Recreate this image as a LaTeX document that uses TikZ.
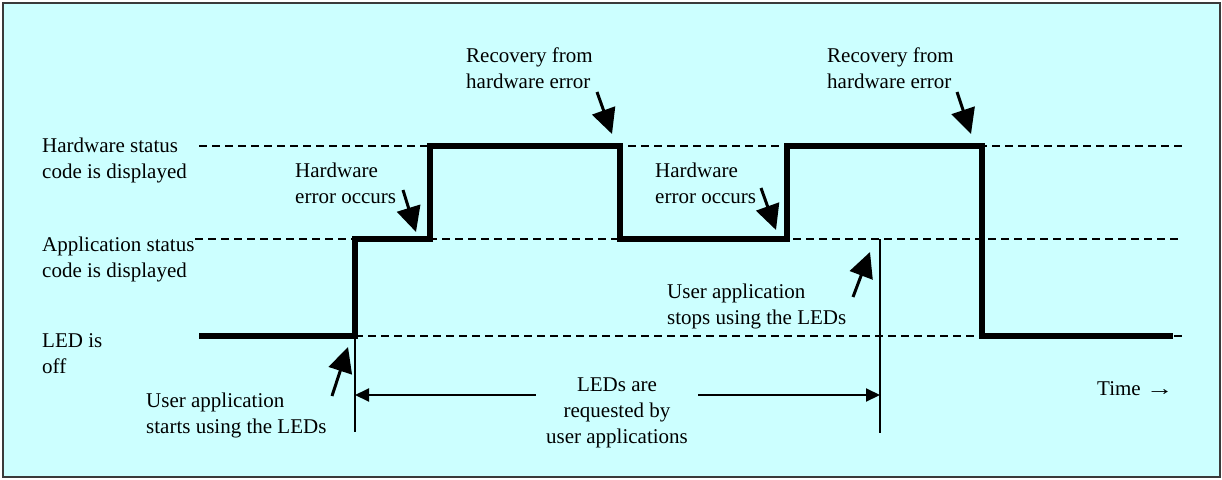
\documentclass[tikz,border=0pt]{standalone}
\usepackage{fontspec}
\setmainfont{Liberation Serif}
\usetikzlibrary{arrows.meta}
\definecolor{ledcyan}{HTML}{CCFFFF}
\definecolor{framegrey}{HTML}{3A3A3A}

\begin{document}
\begin{tikzpicture}[x=1pt, y=-1pt, font=\fontsize{21}{26}\selectfont,
  lbl/.style={anchor=base west, align=left, inner sep=0pt},
  lvl/.style={line width=1.8pt, dash pattern=on 8pt off 5pt},
  sig/.style={line width=6pt},
  ptr/.style={-{Triangle[length=25pt, width=24pt]}, line width=3pt},
  dim/.style={-{Triangle[length=14pt, width=13pt]}, line width=2pt},
  vline/.style={line width=2pt}]
\useasboundingbox (0,0) rectangle (1222,479);
\draw[framegrey, line width=1.5pt, fill=ledcyan] (3,3) rectangle (1220,477);

% state labels
\node[lbl] (hwlbl) at (42,178) {Hardware status\\code is displayed};
\node[lbl] (applbl) at (42,277) {Application status\\code is displayed};
\node[lbl] (offlbl) at (42,373) {LED is\\off};

% levels
\draw[lvl] (199,146) -- (1182,146);
\draw[lvl] (195,239) -- (1182,239);
\draw[lvl] (355,336) -- (1182,336);

% LED state over time
\draw[sig] (199,336) -- (355,336) -- (355,239) -- (430,239) -- (430,146)
  -- (620,146) -- (620,239) -- (787,239) -- (787,146) -- (982,146)
  -- (982,336) -- (1173,336);

% events
\node[lbl] (startlbl) at (146,433) {User application\\starts using the LEDs};
\node[lbl] (hwerr1) at (295,203) {Hardware\\error occurs};
\node[lbl] (recov1) at (466,88) {Recovery from\\hardware error};
\node[lbl] (hwerr2) at (655,203) {Hardware\\error occurs};
\node[lbl] (stoplbl) at (667,324) {User application\\stops using the LEDs};
\node[lbl] (recov2) at (827,88) {Recovery from\\hardware error};
\node[lbl] (timelbl) at (1097,395) {Time \scalebox{1.3}[1]{→}};

\coordinate (startT) at (332,396); \coordinate (startH) at (348,347);
\coordinate (err1T) at (403,190);  \coordinate (err1H) at (416,232);
\coordinate (rec1T) at (597,92);   \coordinate (rec1H) at (612,134);
\coordinate (err2T) at (761,188);  \coordinate (err2H) at (776,230);
\coordinate (stopT) at (853,297);  \coordinate (stopH) at (870,252);
\coordinate (rec2T) at (957,92);   \coordinate (rec2H) at (971,134);
\draw[ptr] (startT) -- (startH);
\draw[ptr] (err1T) -- (err1H);
\draw[ptr] (rec1T) -- (rec1H);
\draw[ptr] (err2T) -- (err2H);
\draw[ptr] (stopT) -- (stopH);
\draw[ptr] (rec2T) -- (rec2H);

% request interval
\coordinate (reqA) at (355,336); \coordinate (reqB) at (355,432);
\coordinate (reqC) at (880,239); \coordinate (reqD) at (880,433);
\draw[vline] (reqA) -- (reqB);
\draw[vline] (reqC) -- (reqD);
\node[anchor=base, align=center, inner xsep=10pt, inner ysep=0pt] (reqlbl) at (617,443)
  {LEDs are\\requested by\\user applications};
\coordinate (reqL) at (355,395); \coordinate (reqR) at (880,395);
\draw[dim] (reqlbl.west |- reqL) -- (reqL);
\draw[dim] (reqlbl.east |- reqR) -- (reqR);
\end{tikzpicture}
\end{document}
